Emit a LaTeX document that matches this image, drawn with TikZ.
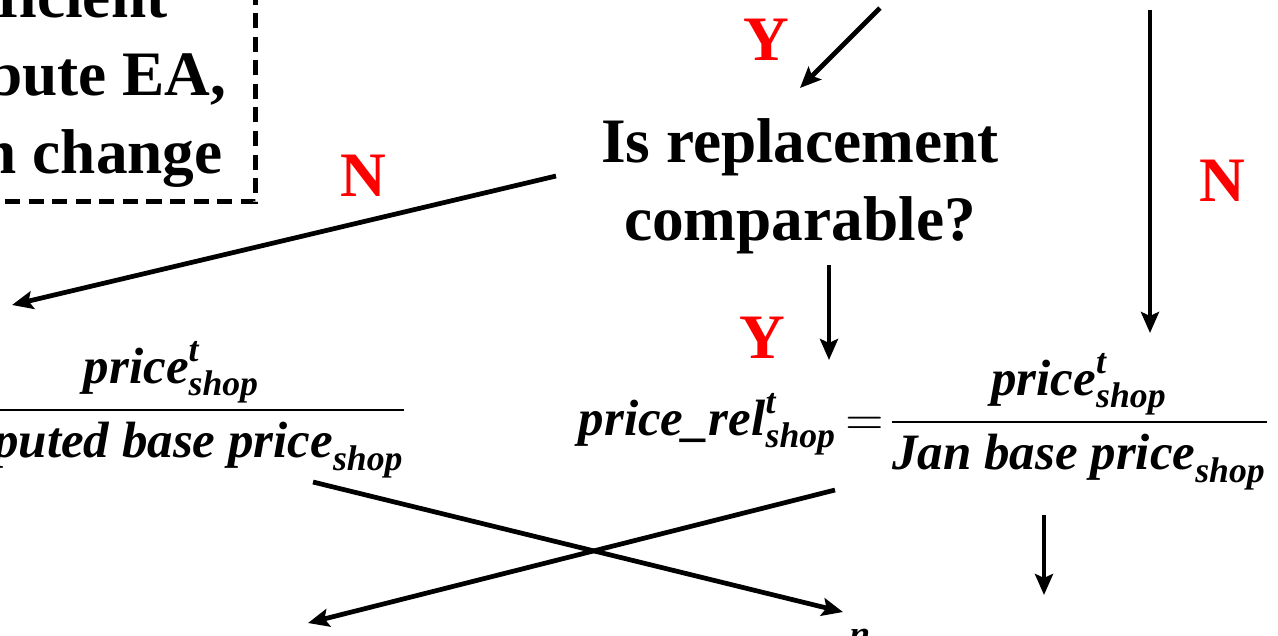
\documentclass[tikz,border=0pt]{standalone}
\usepackage{amsmath}
\usepackage{fontspec}
\setmainfont{Liberation Serif}
\usetikzlibrary{arrows.meta}
\definecolor{YNred}{RGB}{255,0,0}
\newcommand{\mv}[1]{\text{\bfseries\itshape #1}}
\newcommand{\bigbf}{\fontsize{18}{22.2}\selectfont\bfseries}
\tikzset{
  qtext/.style={font=\bigbf,align=center,inner sep=0pt},
  yn/.style={font=\bigbf,text=YNred,inner sep=0pt},
  ibox/.style={draw,line width=1.3pt,dash pattern=on 4.3pt off 2.4pt,
               font=\bigbf,align=center,inner xsep=0.295cm,inner ysep=0.14cm},
  frm/.style={font=\fontsize{14.5}{17}\selectfont,inner sep=0pt},
  flow/.style={-{Stealth[length=2.1mm,width=1.8mm,inset=0.4mm]},line width=1.35pt},
}

\begin{document}
\begin{tikzpicture}[x=0.01cm,y=-0.01cm]
  \useasboundingbox (0,0) rectangle (1278,635);
  \clip (0,0) rectangle (1278,635);
  % question and Y/N labels
  \node[ibox,anchor=south east] (info) at (258,204) {Insufficient\\to attribute EA,\\location change};
  \node[qtext] (ques) at (800,186) {Is replacement\\comparable?};
  \node[yn] (yTop) at (766,40) {Y};
  \node[yn] (nLeft) at (363,176) {N};
  \node[yn] (nRight) at (1222,181) {N};
  \node[yn] (yMid) at (762,338) {Y};
  % price relatives
  \node[frm,anchor=base east] (relL) at (405,423)
    {$\nulldelimiterspace=0pt\dfrac{\mv{price}^{\mv{t}}_{\mv{shop}}}{\mv{imputed base price}_{\mv{shop}}}$};
  \node[frm,anchor=base west] (relR) at (578,435)
    {$\nulldelimiterspace=0pt\thickmuskip=3mu\mv{price\_rel}^{\mv{t}}_{\mv{shop}}=\dfrac{\mv{price}^{\mv{t}}_{\mv{shop}}}{\mv{Jan base price}_{\mv{shop}}}$};
  \node[frm,anchor=north,font=\fontsize{10.5}{12}\selectfont] (nExp) at (860,628) {$\mv{n}$};
  % arrow ends
  \coordinate (inA) at (880,8);
  \coordinate (qTop) at (800,88);
  \coordinate (qLeft) at (556,176);
  \coordinate (lTop) at (12,305);
  \coordinate (inB) at (1150,10);
  \coordinate (rTop) at (1150,333);
  \coordinate (qBot) at (829,265);
  \coordinate (mTop) at (829,360);
  \coordinate (lBot) at (313,482);
  \coordinate (xR) at (843,612);
  \coordinate (mBot) at (835,490);
  \coordinate (xL) at (308,623);
  \coordinate (rBot) at (1044,515);
  \coordinate (rOut) at (1044,595);
  \draw[flow] (inA) -- (qTop);
  \draw[flow] (qLeft) -- (lTop);
  \draw[flow] (inB) -- (rTop);
  \draw[flow] (qBot) -- (mTop);
  \draw[flow] (lBot) -- (xR);
  \draw[flow] (mBot) -- (xL);
  \draw[flow] (rBot) -- (rOut);
\end{tikzpicture}
\end{document}
